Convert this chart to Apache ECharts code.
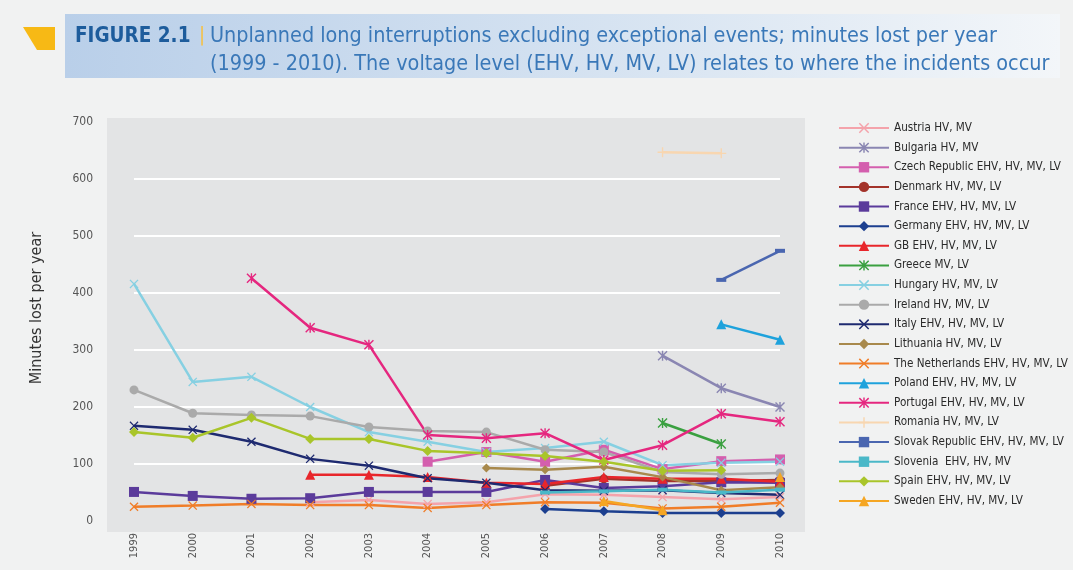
<!DOCTYPE html>
<html><head><meta charset="utf-8">
<script src="https://cdn.jsdelivr.net/npm/echarts@6/dist/echarts.min.js"></script>
<style>html,body{margin:0;padding:0;background:#f1f2f2;}#c{width:1073px;height:570px;}</style>
</head><body><div id="c"></div>
<script>
var years = ['1999','2000','2001','2002','2003','2004','2005','2006','2007','2008','2009','2010'];
var n = null;
var austria     = [n,n,n,33,37,30,33,47,46,42,38,42];
var bulgaria    = [n,n,n,n,n,n,n,n,n,290,233,200];
var czech       = [n,n,n,n,n,104,121,104,125,91,105,108];
var denmark     = [n,n,n,n,n,n,n,62,74,70,70,72];
var france      = [51,44,39,40,51,51,51,72,58,61,68,67];
var germany     = [n,n,n,n,n,n,n,21,17,14,14,14];
var gb          = [n,n,n,81,81,77,67,65,77,74,74,69];
var greece      = [n,n,n,n,n,n,n,n,n,172,135,n];
var hungary     = [416,244,253,200,156,139,121,128,139,98,102,104];
var ireland     = [230,189,186,184,165,158,156,125,121,86,82,84];
var italy       = [167,160,139,109,97,75,67,54,53,54,49,46];
var lithuania   = [n,n,n,n,n,n,93,90,95,77,54,59];
var netherlands = [25,27,30,28,28,23,28,33,32,22,25,32];
var poland      = [n,n,n,n,n,n,n,n,n,n,345,318];
var portugal    = [n,n,426,339,309,151,145,154,107,133,188,174];
var romania     = [n,n,n,n,n,n,n,n,n,647,645,n];
var slovak      = [n,n,n,n,n,n,n,n,n,n,423,474];
var slovenia    = [n,n,n,n,n,n,n,50,52,55,50,55];
var spain       = [156,146,181,144,144,123,119,114,104,88,89,n];
var sweden      = [n,n,n,n,n,n,n,n,35,19,n,77];

var yTicks = [0,100,200,300,400,500,600,700];

var SX = 'path://M1,0L5,4L9,0L10,1L6,5L10,9L9,10L5,6L1,10L0,9L4,5L0,1Z';
var SAST = 'path://M1,0L5,4L9,0L10,1L6,5L10,9L9,10L5,6L1,10L0,9L4,5L0,1Z M4.3,0H5.7V10H4.3Z';
var SPLUS = 'path://M4.3,0H5.7V4.3H10V5.7H5.7V10H4.3V5.7H0V4.3H4.3Z';
var SDASH = 'path://M0,0H10V3H0Z';

var defs = [
  ['Austria HV, MV', austria, '#f4a3ab', SX, 9],
  ['Bulgaria HV, MV', bulgaria, '#8a86b2', SAST, 10],
  ['Czech Republic EHV, HV, MV, LV', czech, '#d45fae', 'rect', 10],
  ['Denmark HV, MV, LV', denmark, '#a3332a', 'circle', 9],
  ['France EHV, HV, MV, LV', france, '#5b3b9b', 'rect', 10],
  ['Germany EHV, HV, MV, LV', germany, '#1c3f8f', 'diamond', 10],
  ['GB EHV, HV, MV, LV', gb, '#e8262b', 'triangle', 10],
  ['Greece MV, LV', greece, '#3aa040', SAST, 10],
  ['Hungary HV, MV, LV', hungary, '#86d0e2', SX, 9],
  ['Ireland HV, MV, LV', ireland, '#aaaaaa', 'circle', 9],
  ['Italy EHV, HV, MV, LV', italy, '#1e2a70', SX, 9],
  ['Lithuania HV, MV, LV', lithuania, '#a8894c', 'diamond', 9],
  ['The Netherlands EHV, HV, MV, LV', netherlands, '#f07d28', SX, 9],
  ['Poland EHV, HV, MV, LV', poland, '#1ea2dc', 'triangle', 10],
  ['Portugal EHV, HV, MV, LV', portugal, '#e5277f', SAST, 10],
  ['Romania HV, MV, LV', romania, '#f8d6b0', SPLUS, 10],
  ['Slovak Republic EHV, HV, MV, LV', slovak, '#4a66b0', SDASH, [10,4]],
  ['Slovenia  EHV, HV, MV', slovenia, '#4ab8c8', SDASH, [10,4]],
  ['Spain EHV, HV, MV, LV', spain, '#a9c52a', 'diamond', 10],
  ['Sweden EHV, HV, MV, LV', sweden, '#f5a623', 'triangle', 10]
];

var series = defs.map(function(d){
  return {
    name: d[0], type: 'line', data: d[1], symbol: d[3], symbolSize: d[4],
    showSymbol: true, connectNulls: false,
    lineStyle: {color: d[2], width: 2.5},
    itemStyle: {color: d[2]},
    emphasis: {disabled: true},
    animation: false
  };
});

var chart = echarts.init(document.getElementById('c'));
var F = '"DejaVu Sans Condensed", "Liberation Sans", sans-serif';
chart.setOption({
  backgroundColor: '#f1f2f2',
  animation: false,
  textStyle: {fontFamily: F},
  graphic: [
    {type: 'rect', z: -10, shape: {x: 65, y: 14, width: 995, height: 64},
     style: {fill: new echarts.graphic.LinearGradient(0,0,1,0,[{offset:0,color:'#b9cfe9'},{offset:0.6,color:'#d9e5f2'},{offset:1,color:'#f3f6f9'}])}},
    {type: 'polygon', z: -10, shape: {points: [[23,27],[55,27],[55,50],[37,50]]}, style: {fill: '#f7b915'}},
    {type: 'text', left: 75, top: 26, style: {text: 'FIGURE 2.1', fill: '#1d5c9c', font: 'bold 20.5px ' + F}},
    {type: 'text', left: 199, top: 26, style: {text: '|', fill: '#f7c040', font: '20px ' + F}},
    {type: 'text', left: 210, top: 26, style: {text: 'Unplanned long interruptions excluding exceptional events; minutes lost per year', fill: '#3a78b8', font: '21.4px ' + F}},
    {type: 'text', left: 210, top: 54, style: {text: '(1999 - 2010). The voltage level (EHV, HV, MV, LV) relates to where the incidents occur', fill: '#3a78b8', font: '21.4px ' + F}},
    {type: 'rect', z: -5, shape: {x: 107, y: 118, width: 698, height: 414}, style: {fill: '#e3e4e5'}},
    {type: 'text', x: 37, y: 308, rotation: Math.PI / 2,
     style: {text: 'Minutes lost per year', fill: '#333', font: '16px ' + F, align: 'center', verticalAlign: 'middle'}}
  ],
  grid: {left: 134, right: 293, top: 122, bottom: 49},
  legend: {
    orient: 'vertical', left: 833, top: 117, itemWidth: 50, itemHeight: 13, itemGap: 7.63,
    textStyle: {fontFamily: F, fontSize: 11.6, color: '#2a2a2a'},
    data: defs.map(function(d){return d[0];})
  },
  xAxis: {
    type: 'category', data: years, boundaryGap: false,
    axisLine: {show: false}, axisTick: {show: false},
    axisLabel: {rotate: 90, margin: 12, fontSize: 11, color: '#555', fontFamily: F}
  },
  yAxis: {
    type: 'value', min: yTicks[0], max: yTicks[yTicks.length-1], interval: 100,
    axisLine: {show: false}, axisTick: {show: false},
    axisLabel: {margin: 41, fontSize: 12, color: '#555', fontFamily: F},
    splitLine: {lineStyle: {color: ['transparent','#ffffff','#ffffff','#ffffff','#ffffff','#ffffff','#ffffff','transparent'], width: 2}}
  },
  series: series
});
</script></body></html>
